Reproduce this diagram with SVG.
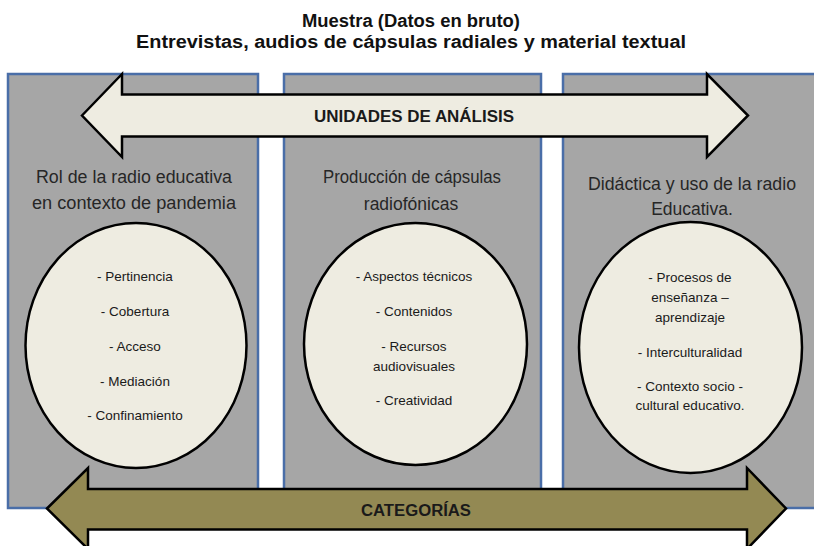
<svg xmlns="http://www.w3.org/2000/svg" width="814" height="546" viewBox="0 0 814 546">
<style>
.title{font-family:"Liberation Sans",Arial,sans-serif;font-weight:bold;font-size:18px;fill:#111;text-anchor:middle}
.panel{fill:#a6a6a6;stroke:#4a6ea8;stroke-width:2.5}
.oval{fill:#eeece1;stroke:#000;stroke-width:2.5}
.head{font-family:"Liberation Sans",Arial,sans-serif;font-size:17.5px;fill:#262626;text-anchor:middle}
.item{font-family:"Liberation Sans",Arial,sans-serif;font-size:13.5px;fill:#1a1a1a;text-anchor:middle}
.arrow{stroke:#000;stroke-width:2.5;stroke-linejoin:miter}
.alabel{font-family:"Liberation Sans",Arial,sans-serif;font-weight:bold;font-size:16px;fill:#1a1a1a;text-anchor:middle}
</style>
<rect width="814" height="546" fill="#fff"/>
<g id="title">
<text class="title" x="411" y="27" textLength="218" lengthAdjust="spacingAndGlyphs">Muestra (Datos en bruto)</text>
<text class="title" x="411" y="48" textLength="550" lengthAdjust="spacingAndGlyphs">Entrevistas, audios de cápsulas radiales y material textual</text>
</g>
<g id="panel-rol">
<rect class="panel" x="8" y="74" width="250" height="434"/>
<text class="head" x="134" y="183" textLength="196" lengthAdjust="spacingAndGlyphs">Rol de la radio educativa</text>
<text class="head" x="134" y="209" textLength="204" lengthAdjust="spacingAndGlyphs">en contexto de pandemia</text>
<ellipse class="oval" cx="136" cy="345.5" rx="110.5" ry="122.5"/>
<text class="item" x="135" y="281">- Pertinencia</text>
<text class="item" x="135" y="316">- Cobertura</text>
<text class="item" x="135" y="351">- Acceso</text>
<text class="item" x="135" y="386">- Mediación</text>
<text class="item" x="135" y="420">- Confinamiento</text>
</g>
<g id="panel-produccion">
<rect class="panel" x="284" y="74" width="257" height="434"/>
<text class="head" x="412" y="183" textLength="178" lengthAdjust="spacingAndGlyphs">Producción de cápsulas</text>
<text class="head" x="411" y="210">radiofónicas</text>
<ellipse class="oval" cx="415.5" cy="344" rx="111.5" ry="121"/>
<text class="item" x="414" y="281">- Aspectos técnicos</text>
<text class="item" x="414" y="316">- Contenidos</text>
<text class="item" x="414" y="351">- Recursos</text>
<text class="item" x="414" y="371">audiovisuales</text>
<text class="item" x="414" y="405">- Creatividad</text>
</g>
<g id="panel-didactica">
<rect class="panel" x="563" y="74" width="270" height="434"/>
<text class="head" x="692" y="190" textLength="208" lengthAdjust="spacingAndGlyphs">Didáctica y uso de la radio</text>
<text class="head" x="692" y="215">Educativa.</text>
<ellipse class="oval" cx="690.5" cy="347.5" rx="111.5" ry="125.5"/>
<text class="item" x="690" y="282">- Procesos de</text>
<text class="item" x="690" y="302">enseñanza –</text>
<text class="item" x="690" y="322">aprendizaje</text>
<text class="item" x="690" y="357">- Interculturalidad</text>
<text class="item" x="690" y="391">- Contexto socio -</text>
<text class="item" x="690" y="410">cultural educativo.</text>
</g>
<g id="connectors">
<g id="arrow-unidades">
<path class="arrow" fill="#eeece1" d="M82,115.5 L122,74 L122,94.5 L707,94.5 L707,74 L748,115.5 L707,157 L707,136.5 L122,136.5 L122,157 Z"/>
<text class="alabel" x="414" y="122" textLength="200" lengthAdjust="spacingAndGlyphs">UNIDADES DE ANÁLISIS</text>
</g>
<g id="arrow-categorias">
<path class="arrow" fill="#938953" d="M47,508.5 L88,468 L88,489 L747,489 L747,468 L786,508.5 L747,549 L747,529.5 L88,529.5 L88,549 Z"/>
<text class="alabel" x="416" y="516" textLength="110" lengthAdjust="spacingAndGlyphs">CATEGORÍAS</text>
</g>
</g>
</svg>
